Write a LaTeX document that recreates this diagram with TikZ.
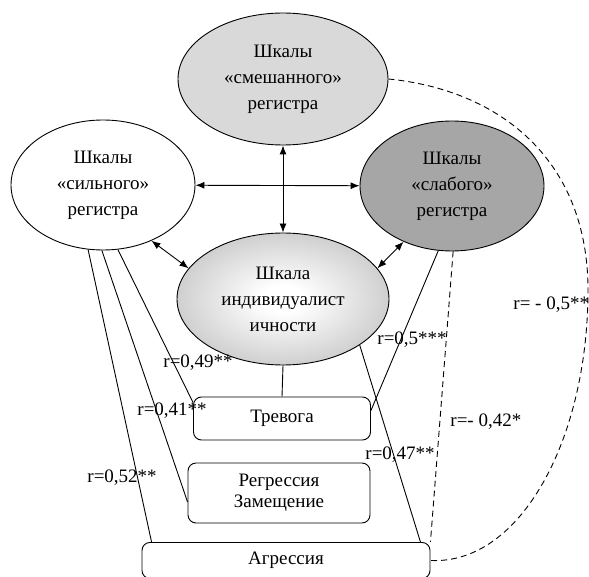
\documentclass[tikz,border=0pt]{standalone}
\usepackage{fontspec}
\setmainfont{Liberation Serif}
\usetikzlibrary{shapes.geometric,arrows.meta}

\pgfdeclareradialshading{indshade}{\pgfpoint{0bp}{0bp}}{color(0bp)=(white); color(5bp)=(white); color(50bp)=(black!42)}

\begin{document}
\begin{tikzpicture}[x=1pt, y=-1pt, line width=0.9pt, font=\fontsize{19}{26}\selectfont, >={Latex[length=9pt,width=7pt]}]
\clip (0,0) rectangle (589,577);
\begin{scope}[every node/.style = {ellipse, draw, align=center, inner sep=0pt, minimum width=184pt, minimum height=130pt}]
\node[minimum width=210pt, minimum height=132pt, fill=black!15] (sme) at (283,79) {Шкалы\\«смешанного»\\регистра};
\node (sil) at (103,185) {Шкалы\\«сильного»\\регистра};
\node[fill=black!35] (sla) at (452,186) {Шкалы\\«слабого»\\регистра};
\node[minimum width=212pt, minimum height=132pt, shading=indshade] (ind) at (283,299) {Шкала\\индивидуалист\\ичности};
\end{scope}
\begin{scope}[every node/.style = {rectangle, rounded corners=8pt, draw, align=center, inner sep=0pt}]
\node[minimum width=177pt, minimum height=43pt] (tre) at (282,418.5) {Тревога};
\node[minimum width=182pt, minimum height=60pt, font=\fontsize{19}{21}\selectfont] (reg) at (279,493) {Регрессия\\Замещение};
\node[minimum width=288pt, minimum height=36pt, anchor=north] (agr) at (286,542) {Агрессия};
\end{scope}
\begin{scope}[every edge/.style = {draw, line width=0.9pt}]
\path (sil) edge[<->] (sla);
\path (sme.south) edge[<->] (ind.north);
\path (sil.-49) edge[<->] (ind.162);
\path (sla.-131) edge[<->] (ind.18);
\path (sil.-103) edge ([xshift=10pt]agr.north west);
\path (sil.-91) edge ([yshift=-9pt]reg.west);
\path (sil.-77) edge ([yshift=-6pt]tre.north west);
\path (ind.south) edge (tre.north);
\path (sla.-102) edge ([yshift=8pt]tre.east);
\path (ind.-31) edge ([xshift=-10pt]agr.north east);
\path (sla.-89) edge[dash pattern=on 6pt off 4pt] (agr.north east);
\end{scope}
\draw[dash pattern=on 6pt off 4pt] (sme.east) .. controls (500,90) and (588,160) .. (588,290) .. controls (588,440) and (520,565) .. (agr.east);
\begin{scope}[every node/.style = {inner sep=0pt, anchor=west}]
\node (r49) at (163,363) {r=0,49**};
\node (r41) at (137,411) {r=0,41**};
\node (r52) at (87,478) {r=0,52**};
\node (r5) at (377,340) {r=0,5***};
\node (r42) at (450,422) {r=- 0,42*};
\node (r47) at (365,455) {r=0,47**};
\node (rsme) at (513,305) {r= - 0,5**};
\end{scope}
\end{tikzpicture}
\end{document}
